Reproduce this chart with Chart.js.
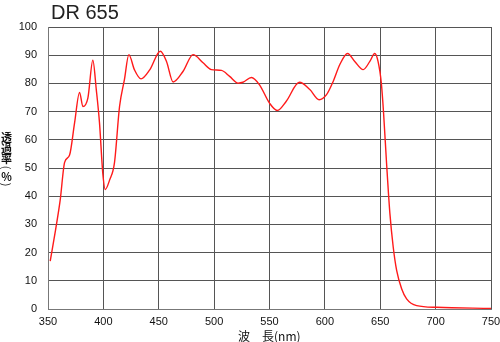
<!DOCTYPE html>
<html><head><meta charset="utf-8">
<script src="https://cdn.jsdelivr.net/npm/chart.js@4"></script>
<style>
html,body{margin:0;padding:0;background:#fff;}
#wrap{position:relative;width:500px;height:342px;}
#c{position:absolute;left:0;top:0;}
.t{position:absolute;font-family:"Liberation Sans",Arial,sans-serif;color:#111;}
#title{left:51px;top:1px;font-size:20px;color:#222;}
#ylab{left:0px;top:132px;width:13px;text-align:center;font-family:"Noto Sans CJK JP",sans-serif;font-size:11px;line-height:10.5px;font-weight:bold;}
#ylab .p{display:block;font-size:11px;line-height:7px;font-weight:normal;transform:rotate(90deg);}
#xlab{left:238px;top:327px;font-family:"Noto Sans CJK JP",sans-serif;font-size:12px;}
</style></head>
<body><div id="wrap">
<canvas id="c" width="500" height="342"></canvas>
<div class="t" id="title">DR 655</div>
<div class="t" id="ylab">透<br>過<br>率<br><span class="p">(</span>%<span class="p">)</span></div>
<div class="t" id="xlab">波　長(nm)</div>
</div>
<script>
const wavelengths = [352,356.8,361,365,369.5,374,378.5,381.5,386,390.5,393.6,396.5,399.5,401.7,405.6,410,414.6,419,423,428,434,442,451.4,457,463,472,481,490,497.5,506.6,514,521.6,526,533.7,541,550,557,565,577,586.4,594.8,601.5,607.5,613.5,620.5,627,634.6,640.6,645,648,651,653,655.7,658.7,661.7,664.8,669.3,673.8,682.9,701,750];
const transmittance = [17,28,38.6,52,54.6,66,76.8,71.8,74.8,88.2,77.8,66,48,42.4,45.7,51.8,71.8,81.3,90.2,84.9,81.6,84.9,91.4,87.8,80.5,84.3,90.2,87.3,84.9,84.6,82.5,80.1,80.4,82.1,79.5,73,70.4,73.6,80.4,77.8,74.2,76,80.7,86.7,90.6,87.8,84.9,87.8,90.6,87.8,80,69.5,51.7,33.9,22,13.7,7.2,3.6,1.2,0.6,0.2];
const xTicks = [350,400,450,500,550,600,650,700,750];
const yTicks = [0,10,20,30,40,50,60,70,80,90,100];

const pts = wavelengths.map((w,i)=>({x:w,y:transmittance[i]}));
const font = {family:'"Liberation Sans", Arial, sans-serif', size:11};
new Chart(document.getElementById('c'), {
  type:'line',
  data:{datasets:[{data:pts,borderColor:'#ff1a1a',borderWidth:1.4,pointRadius:0,fill:false,cubicInterpolationMode:'monotone'}]},
  options:{
    responsive:false,animation:false,
    layout:{padding:{top:27,right:9,left:0,bottom:0}},
    plugins:{legend:{display:false},tooltip:{enabled:false}},
    scales:{
      x:{type:'linear',min:350,max:750,
        afterBuildTicks:s=>{s.ticks=xTicks.map(v=>({value:v}));},
        afterFit:s=>{s.height=33;s.paddingLeft=0;s.paddingRight=0;},
        ticks:{color:'#111',font:font,padding:6,maxRotation:0},
        grid:{color:'#555',lineWidth:1,drawTicks:false},
        border:{color:'#777',width:1}},
      y:{min:0,max:100,
        afterBuildTicks:s=>{s.ticks=yTicks.map(v=>({value:v}));},
        afterFit:s=>{s.width=48;s.paddingTop=0;s.paddingBottom=0;},
        ticks:{color:'#111',font:font,padding:11},
        grid:{color:'#555',lineWidth:1,drawTicks:false},
        border:{color:'#777',width:1}}
    }
  }
});
</script>
</body></html>
